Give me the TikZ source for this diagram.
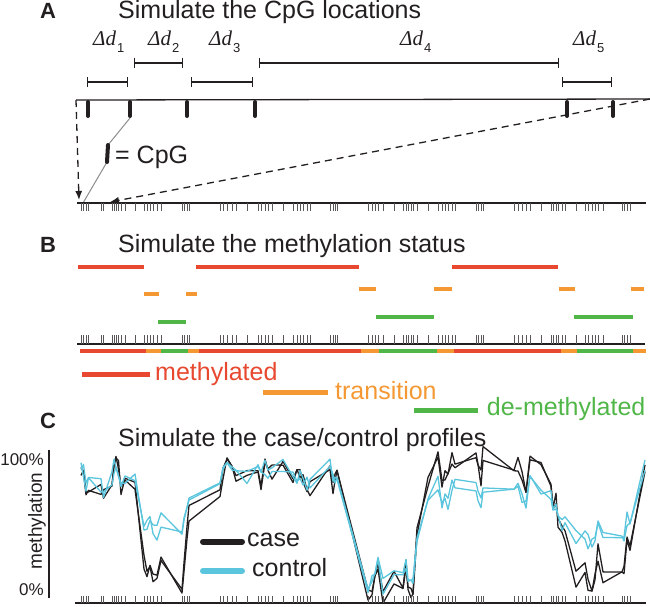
\documentclass[tikz,border=0pt]{standalone}
\usepackage{fontspec}
\setmainfont{Liberation Sans}
\newfontfamily\deltafont{Liberation Serif}
\usetikzlibrary{arrows.meta}

\definecolor{ink}{RGB}{35,31,32}
\definecolor{methred}{RGB}{231,72,47}
\definecolor{transorange}{RGB}{244,152,52}
\definecolor{demethgreen}{RGB}{80,182,72}
\definecolor{ctrlcyan}{RGB}{90,197,220}

\newcommand\cpgsites{81,83.5,86,88.5,101,103.5,112,114,116,118.5,121,125,135,144,147,150,153,157,161,182,184,187,189,220,223,227,232,236,247,258,261,265,268,272,283,293,297,300,303,307,310,330,333,335,337,368,372,375,378,383,394,403,406,408,411,413,417,428,438,442,445,448,452,455,476,478,481,483,514,518,522,526,530,541,551,553,556,558,562,565,576,585,588,592,595,598,603,622,624,627,630}

\pgfmathdeclarefunction{ramp}{3}{\pgfmathparse{min(max((#1-#2)/(#3-#2),0),1)}}
\pgfmathdeclarefunction{jit}{2}{\pgfmathparse{2*frac(abs(sin(#1*#2)*73.17))-1}}
\pgfmathdeclarefunction{casemean}{1}{\pgfmathparse{0.86-0.74*ramp(#1,133,147)+0.53*ramp(#1,182,189)+0.23*ramp(#1,189,222)-0.78*ramp(#1,335,366)+0.80*ramp(#1,412,427)-0.72*ramp(#1,545,575)+0.67*ramp(#1,622,645)}}
\pgfmathdeclarefunction{ctrlmean}{1}{\pgfmathparse{0.86-0.39*ramp(#1,133,147)+0.25*ramp(#1,182,189)+0.16*ramp(#1,189,222)-0.76*ramp(#1,335,366)+0.61*ramp(#1,412,427)-0.28*ramp(#1,545,570)+0.40*ramp(#1,622,645)}}
\pgfmathdeclarefunction{meth}{4}{\pgfmathparse{592-134*(#2+#3*jit(#1,17.3)+0.07*jit(#1,#4))}}

\tikzset{
  title/.style={anchor=base west,inner sep=0pt,text=ink,font=\fontsize{25}{30}\selectfont},
  panel/.style={anchor=base west,inner sep=0pt,text=ink,font=\fontsize{22}{26}\selectfont\bfseries},
  delta/.style={anchor=base west,inner sep=0pt,text=ink,font=\deltafont\itshape\fontsize{21}{24}\selectfont},
  ylab/.style={inner sep=0pt,text=ink,font=\fontsize{17}{20}\selectfont},
  span/.style={draw=ink,line width=1.1pt,arrows={Bar[width=10pt]-Bar[width=10pt]}},
  axisline/.style={draw=ink,line width=1.3pt},
  site/.style={draw=ink!75,line width=0.7pt},
  cpgmark/.style={draw=ink,line width=4pt,line cap=round},
  link/.style={draw=black!45,line width=1pt},
  zoomarrow/.style={draw=ink,line width=1.3pt,dash pattern=on 7pt off 5pt,-{Latex[length=9pt,width=7pt]}},
  statebar/.style={line width=4pt},
  keybar/.style={line width=5pt},
  caseline/.style={draw=ink,line width=1.3pt,line join=round},
  ctrlline/.style={draw=ctrlcyan,line width=1.3pt,line join=round},
  keyline/.style={line width=6pt,line cap=round}
}
\newcommand\sub[1]{\kern1pt\raisebox{-7pt}{\normalfont\upshape\fontsize{13}{13}\selectfont #1}}

\begin{document}
\begin{tikzpicture}[x=1pt,y=-1pt]
\useasboundingbox (0,0) rectangle (650,606);

\node[panel] (labA) at (40,18.5) {A};
\node[title] (titleA) at (118,18.5) {Simulate the CpG locations};
\node[delta] (d1) at (93,45) {Δd\sub{1}};
\node[delta] (d2) at (148,45) {Δd\sub{2}};
\node[delta] (d3) at (209,45) {Δd\sub{3}};
\node[delta] (d4) at (400,45) {Δd\sub{4}};
\node[delta] (d5) at (573,45) {Δd\sub{5}};
\draw[span] (87,82) -- (128,82);
\draw[span] (134,63) -- (183,63);
\draw[span] (191,82) -- (253,82);
\draw[span] (259,63) -- (559,63);
\draw[span] (562,82) -- (612,82);

\coordinate (mainL) at (76,100);
\coordinate (mainR) at (650,99);
\draw[axisline] (mainL) -- (mainR);
\foreach \x [count=\i] in {88,130,187,255,567,613} {
  \draw[cpgmark] (\x,102) -- (\x,116);
  \coordinate (cpg\i) at (\x,118);
}
\coordinate (keytop) at (108,145);
\coordinate (keybot) at (107,162);
\coordinate (rowAdrop) at (79,200);
\coordinate (rowAhit) at (83,203);
\coordinate (rowAland) at (110,202);
\draw[link] (cpg2) -- (keytop);
\draw[link] (keybot) -- (rowAhit);
\draw[cpgmark] (keytop) -- (keybot);
\node[title] (cpgkey) at (115,163.3) {= CpG};

\draw[axisline] (77,203) -- (646,203);
\foreach \x in \cpgsites \draw[site] (\x,203) -- (\x,211);
\draw[zoomarrow] (mainL) -- (rowAdrop);
\draw[zoomarrow] (mainR) -- (rowAland);

\node[panel] (labB) at (40,252.7) {B};
\node[title] (titleB) at (118,252.7) {Simulate the methylation status};
\draw[statebar,methred] (78,267) -- (144,267) (196,267) -- (359,267) (452,267) -- (558,267);
\draw[statebar,transorange] (144,294) -- (159,294) (186,294) -- (197,294) (359,289) -- (376,289) (434,289) -- (452,289) (559,289) -- (575,289) (631,289) -- (644,289);
\draw[statebar,demethgreen] (158,322) -- (186,322) (376,317) -- (434,317) (574,317) -- (633,317);
\draw[axisline] (77,344) -- (645,344);
\foreach \x in \cpgsites \draw[site] (\x,344) -- (\x,335);
\foreach \a/\b/\c in {80/146/methred,146/161/transorange,161/188/demethgreen,188/199/transorange,199/361/methred,361/379/transorange,379/437/demethgreen,437/454/transorange,454/561/methred,561/577/transorange,577/633/demethgreen,633/646/transorange}
  \draw[statebar,\c] (\a,351) -- (\b,351);
\draw[keybar,methred] (82,374) -- (150,374);
\node[title,text=methred] (keymeth) at (155,380) {methylated};
\draw[keybar,transorange] (263,392.7) -- (328,392.7);
\node[title,text=transorange] (keytrans) at (335,399) {transition};
\draw[keybar,demethgreen] (414,410) -- (478,410);
\node[title,text=demethgreen] (keydemeth) at (486.7,415) {de-methylated};

\node[panel] (labC) at (40,428) {C};
\node[title] (titleC) at (118,446) {Simulate the case/control profiles};
\draw[axisline] (49,450) -- (49,598);
\node[ylab,anchor=base east] (full) at (44,465) {100\%};
\node[ylab,anchor=base east] (none) at (44,595) {0\%};
\node[ylab,rotate=90,font=\fontsize{19}{22}\selectfont] (ylabel) at (37,521) {methylation};

\foreach \x [count=\n] in \cpgsites {
  \coordinate (ca\n) at (\x,{meth(\x,casemean(\x),0.13,11.7)});
  \coordinate (cb\n) at (\x,{meth(\x,casemean(\x),0.13,13.9)});
  \coordinate (ka\n) at (\x,{meth(\x,ctrlmean(\x),0.09,19.1)});
  \coordinate (kb\n) at (\x,{meth(\x,ctrlmean(\x),0.09,21.3)});
}
\draw[caseline] (ca1) \foreach \n in {2,...,91} {-- (ca\n)} -- (645,{meth(645,casemean(645),0.13,11.7)});
\draw[caseline] (cb1) \foreach \n in {2,...,91} {-- (cb\n)} -- (645,{meth(645,casemean(645),0.13,13.9)});
\draw[ctrlline] (ka1) \foreach \n in {2,...,91} {-- (ka\n)} -- (645,{meth(645,ctrlmean(645),0.09,19.1)});
\draw[ctrlline] (kb1) \foreach \n in {2,...,91} {-- (kb\n)} -- (645,{meth(645,ctrlmean(645),0.09,21.3)});

\draw[keyline,ink] (203,541.7) -- (242,541.7);
\node[title] (keycase) at (247,546.7) {case};
\draw[keyline,ctrlcyan] (203,571) -- (242,571);
\node[title] (keyctrl) at (252,576.7) {control};

\draw[axisline] (75,603) -- (646,603);
\foreach \x in \cpgsites \draw[site] (\x,603) -- (\x,596);
\end{tikzpicture}
\end{document}
